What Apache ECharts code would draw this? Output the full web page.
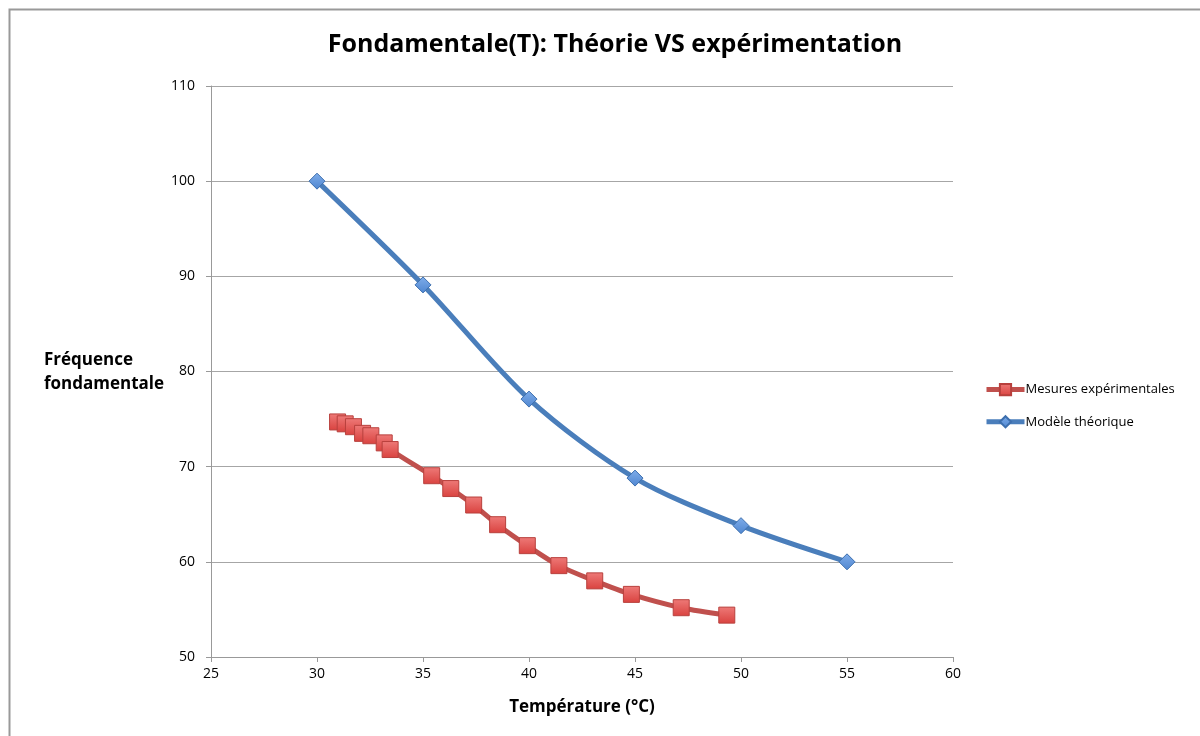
<!DOCTYPE html>
<html><head><meta charset="utf-8">
<script src="https://cdn.jsdelivr.net/npm/echarts@6/dist/echarts.min.js"></script>
<style>html,body{margin:0;padding:0;background:#fff}#c{width:1200px;height:736px}</style>
</head><body><div id="c"></div>
<script>
const titleText = 'Fondamentale(T): Théorie VS expérimentation';
const xName = 'Température (°C)';
const yName = 'Fréquence\nfondamentale';
const seriesNames = ['Mesures expérimentales', 'Modèle théorique'];
const mesuresT = [30.97, 31.33, 31.72, 32.15, 32.54, 33.17, 33.45, 35.41, 36.31, 37.39, 38.52, 39.92, 41.41, 43.1, 44.83, 47.18, 49.33];
const mesuresF = [74.7, 74.5, 74.2, 73.5, 73.25, 72.5, 71.8, 69.05, 67.7, 65.97, 63.9, 61.7, 59.6, 58.0, 56.58, 55.18, 54.4];
const modeleT = [30, 35, 40, 45, 50, 55];
const modeleF = [100, 89.1, 77.1, 68.8, 63.8, 60];

const font = '"Open Sans", "Liberation Sans", sans-serif';
const chart = echarts.init(document.getElementById('c'));
chart.setOption({
  backgroundColor: '#fff',
  animation: false,
  title: { text: titleText, left: 610, top: 27, textAlign: 'center',
    textStyle: { fontFamily: font, fontSize: 25, fontWeight: 'bold', color: '#000' } },
  graphic: [
    { type: 'rect', shape: { x: 9.5, y: 9.5, width: 1300, height: 800 },
      style: { fill: 'none', stroke: '#999', lineWidth: 2 }, silent: true },
    { type: 'text', left: 44, top: 348, style: { text: yName, fontFamily: font, fontSize: 17,
      fontWeight: 'bold', fill: '#000', align: 'center', lineHeight: 24 } }
  ],
  legend: {
    orient: 'vertical', left: 979, top: 378, itemGap: 19, itemWidth: 38, itemHeight: 14,
    textStyle: { fontFamily: font, fontSize: 13, color: '#000', padding: [0, 0, 0, -4] },
    lineStyle: { width: 5 },
    data: seriesNames
  },
  grid: { left: 211, right: 247, top: 86, bottom: 79 },
  xAxis: {
    type: 'value', min: 25, max: 60, interval: 5,
    name: xName, nameLocation: 'middle', nameGap: 42,
    nameTextStyle: { fontFamily: font, fontSize: 17, fontWeight: 'bold', color: '#000' },
    axisLine: { show: true, lineStyle: { color: '#999', width: 1 } },
    axisTick: { show: true, length: 5, inside: false, lineStyle: { color: '#999' } },
    axisLabel: { fontFamily: font, fontSize: 14, color: '#000', margin: 10 },
    splitLine: { show: false }
  },
  yAxis: {
    type: 'value', min: 50, max: 110, interval: 10,
    axisLine: { show: true, lineStyle: { color: '#999', width: 1 } },
    axisTick: { show: true, length: 5, lineStyle: { color: '#999' } },
    axisLabel: { fontFamily: font, fontSize: 14, color: '#000', margin: 16 },
    splitLine: { show: true, lineStyle: { color: '#a6a6a6', width: 1 } }
  },
  series: [
    { name: seriesNames[0], type: 'line', smooth: 0.3,
      data: mesuresT.map((t, i) => [t, mesuresF[i]]),
      symbol: 'rect', symbolSize: 16,
      lineStyle: { color: '#c0504d', width: 5 },
      itemStyle: { color: new echarts.graphic.LinearGradient(0, 0, 0, 1, [{offset:0,color:'#ee7a78'},{offset:1,color:'#d9423f'}]),
        borderColor: '#b8403d', borderWidth: 1 },
      z: 3 },
    { name: seriesNames[1], type: 'line', smooth: 0.3,
      data: modeleT.map((t, i) => [t, modeleF[i]]),
      symbol: 'diamond', symbolSize: 16,
      lineStyle: { color: '#4a7ebb', width: 5 },
      itemStyle: { color: new echarts.graphic.LinearGradient(0, 0, 0, 1, [{offset:0,color:'#7fadea'},{offset:1,color:'#4f86d0'}]),
        borderColor: '#3d6fae', borderWidth: 1 },
      z: 3 }
  ]
});
</script></body></html>
